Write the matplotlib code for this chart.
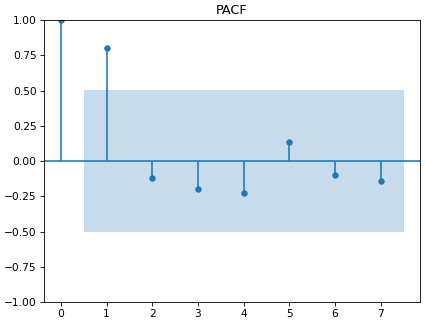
import numpy as np
import matplotlib
matplotlib.use("Agg")
import matplotlib.pyplot as plt

lags = [0, 1, 2, 3, 4, 5, 6, 7]
pacf = [1.0, 0.80, -0.12, -0.20, -0.227, 0.135, -0.097, -0.142]
conf_lags = [0.5, 7.5]
conf_hi = [0.504, 0.504]
conf_lo = [-0.504, -0.504]

dpi = 76.4
fig = plt.figure(figsize=(425 / dpi, 323 / dpi), dpi=dpi)
ax = fig.add_axes([0.1035, 0.065, 0.8845, 0.873])

ax.vlines(lags, [0], pacf, color="C0")
ax.plot(lags, pacf, "o", color="C0", markersize=5)
ax.axhline(0, color="C0")
ax.fill_between(conf_lags, conf_lo, conf_hi, alpha=0.25, linewidth=0)
ax.set_xlim(-0.37, 7.855)
ax.set_ylim(-1, 1)
ax.set_title("PACF")

fig.savefig("out.png", dpi=dpi)
